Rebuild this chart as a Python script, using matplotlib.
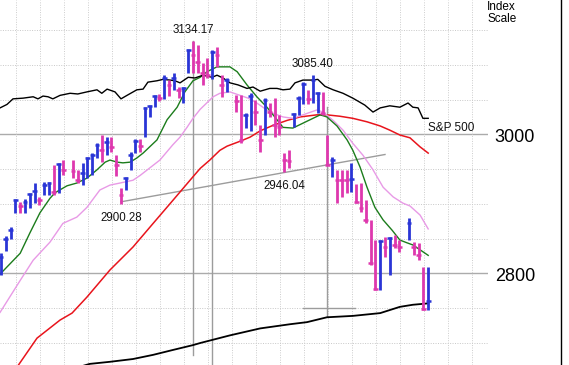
import numpy as np
import pandas as pd
import matplotlib
matplotlib.use("Agg")
import matplotlib.pyplot as plt
from matplotlib.lines import Line2D
from matplotlib.collections import LineCollection

plt.rcParams['font.family'] = ['Liberation Sans', 'DejaVu Sans']

# ---------------- data (Nasdaq Composite, daily, Jan 31 - Jun 4 2012) ----------------
start = "2012-01-31"
end = "2012-06-04"
holidays = ["2012-02-20", "2012-04-06", "2012-05-28"]

highs = [2829, 2854, 2867, 2907, 2903, 2907, 2916, 2930, 2910, 2931, 2931, 2956, 2959, 2963,
         2963, 2949, 2959, 2967, 2973, 2987, 2999, 2996, 2996, 2970,
         2923, 2939, 2975, 2993, 2993, 3039, 3042, 3056, 3058, 3085,
         3078, 3088, 3068, 3068, 3123, 3134.17, 3128, 3102, 3110, 3121,
         3125, 3085, 3081,
         3056, 3056, 3031, 3059, 3049, 3013, 3052, 3045, 3052, 3028,
         2973, 2977, 3031, 3055, 3075, 3064, 3085.40, 3061, 3061, 2999,
         2967, 2949, 2949, 2949, 2959, 2929, 2930, 2906, 2877, 2848,
         2848, 2852, 2852, 2855, 2848,
         2880, 2845, 2844, 2809, 2809]
lows = [2798, 2832, 2849, 2887, 2887, 2887, 2894, 2901, 2898, 2913, 2913, 2913, 2916, 2941,
        2937, 2930, 2927, 2937, 2941, 2966, 2960, 2970, 2975, 2940,
        2900.28, 2920, 2949, 2973, 2975, 2996, 3025, 3039, 3048, 3051,
        3055, 3064, 3052, 3045, 3088, 3088, 3088, 3071, 3081, 3079,
        3097, 3054, 3061,
        3032, 2987, 3009, 3005, 3013, 2975, 2999, 3025, 2996, 2999,
        2946.04, 2952, 3010, 3028, 3044, 3044, 3045, 3031, 3028, 2956,
        2939, 2901, 2910, 2916, 2917, 2901, 2888, 2872, 2812, 2776,
        2776, 2824, 2798, 2836, 2831,
        2848, 2826, 2819, 2748, 2748]
closes = [2824, 2849, 2862, 2905, 2897, 2903, 2914, 2918, 2905, 2927, 2930, 2917, 2958, 2949,
          2948, 2934, 2944, 2966, 2970, 2985, 2977, 2989, 2982, 2956,
          2913, 2937, 2970, 2990, 2983, 3038, 3041, 3055, 3052, 3081,
          3071, 3081, 3064, 3066, 3121, 3114, 3104, 3088, 3085, 3118,
          3114, 3071, 3078,
          3048, 2992, 3028, 3055, 3032, 2992, 3049, 3032, 3013, 3010,
          2963, 2962, 3029, 3052, 3072, 3051, 3078, 3059, 3031, 2956,
          2963, 2934, 2934, 2934, 2936, 2903, 2894, 2877, 2815, 2778,
          2846, 2838, 2851, 2841, 2838,
          2872, 2838, 2826, 2749, 2760]
# U = up day (blue), D = down day (magenta)
direction = ("UUUUDUUUDUUDUD"
             "DDUUUUDUDDDUUUDUUUDUDUDUUDDDDUDDU"
             "DDUUDDUDDDDDUUUDUUDDUDDDUDDDDDUDUDD"
             "UDDDU")

# moving averages / S&P 500 comparison line (x = weekday offset from start)
ma10_day = [-0.2, 4.0, 6.0, 8.1, 10.2, 11.25, 13.75, 15.8, 17.9, 20.0, 21.7, 22.7, 24.2, 25.4, 26.9,
            28.3, 29.6, 32.5, 34.6, 36.7, 38.3, 40.0, 41.5, 42.9, 45.0, 47.7, 49.2, 51.25, 53.3, 55.4,
            57.5, 58.75, 60.8, 62.9, 65.0, 66.5, 67.9, 70.0, 72.1, 73.3, 74.8, 76.25, 77.9, 79.6, 81.5,
            83.1, 84.6, 85.8, 87.3, 89.0]
ma10 = [2799, 2829, 2858, 2887, 2908, 2916, 2926, 2930, 2937, 2949, 2960, 2963, 2960, 2959, 2960,
        2966, 2973, 2992, 3021, 3039, 3061, 3077, 3082, 3090, 3097, 3097, 3090, 3071, 3054, 3039,
        3021, 3010, 3009, 3016, 3023, 3028, 3025, 3012, 2992, 2977, 2953, 2924, 2895, 2877, 2862,
        2848, 2844, 2841, 2834, 2826]

ma21_day = [-0.2, 4.0, 6.7, 10.2, 12.9, 15.8, 17.9, 20.6, 22.7, 24.8, 27.5, 29.0, 33.1, 35.8, 37.3,
            38.75, 40.0, 41.5, 44.2, 45.6, 47.7, 49.8, 51.5, 53.3, 56.0, 58.75, 60.8, 62.9, 65.8, 67.1,
            69.2, 71.25, 73.3, 75.4, 77.5, 79.6, 81.7, 83.75, 85.2, 87.3, 89.0]
ma21 = [2744, 2790, 2819, 2845, 2872, 2881, 2895, 2920, 2927, 2930, 2934, 2941, 2963, 2985, 2996,
        3010, 3023, 3036, 3054, 3059, 3061, 3056, 3052, 3045, 3032, 3025, 3023, 3028, 3035, 3032,
        3020, 3006, 2987, 2970, 2949, 2924, 2910, 2901, 2897, 2884, 2864]

ma50_day = [3.0, 7.5, 12.3, 14.8, 17.9, 22.7, 27.5, 31.7, 35.8, 40.0, 41.5, 43.5, 45.6, 47.1, 49.8,
            51.9, 54.0, 56.7, 59.6, 62.3, 65.8, 67.9, 70.6, 73.3, 76.25, 79.0, 81.0, 83.1, 85.2, 87.3,
            89.0]
ma50 = [2662, 2707, 2733, 2743, 2766, 2805, 2838, 2872, 2905, 2939, 2951, 2963, 2977, 2983, 2990,
        2996, 3005, 3013, 3020, 3025, 3028, 3028, 3026, 3023, 3018, 3012, 3006, 2999, 2995, 2982,
        2973]

ma200_day = [17.0, 18.5, 22.7, 27.5, 31.7, 35.8, 40.0, 41.5, 47.7, 54.0, 60.2, 63.75, 67.9, 73.3,
             79.0, 83.1, 85.8, 89.0]
ma200 = [2667, 2670, 2673, 2677, 2683, 2690, 2697, 2700, 2711, 2721, 2727, 2730, 2737, 2739,
         2743, 2752, 2755, 2757]

sp_day = [-0.2, 1.25, 2.5, 4.6, 6.7, 7.7, 8.75, 9.8, 10.8, 12.3, 14.4, 16.0, 17.9, 20.0, 21.0,
          22.1, 23.75, 25.0, 26.25, 28.3, 29.6, 30.6, 32.5, 33.75, 35.2, 36.25, 37.3, 39.0, 40.4, 42.1,
          44.0, 45.0, 46.25, 47.7, 49.4, 51.25, 52.5, 54.0, 56.0, 57.5, 58.75, 60.2, 61.25, 62.9, 64.8,
          66.0, 67.5, 69.2, 71.25, 73.3, 75.8, 77.5, 79.0, 81.0, 83.1, 84.8, 85.8, 86.9, 87.9, 89.0]
sp500 = [3038, 3043, 3051, 3052, 3054, 3051, 3055, 3054, 3051, 3056, 3059, 3058, 3061, 3064, 3059,
         3065, 3061, 3051, 3056, 3064, 3065, 3075, 3077, 3079, 3078, 3077, 3074, 3082, 3081, 3085,
         3082, 3085, 3081, 3074, 3071, 3066, 3068, 3062, 3066, 3066, 3064, 3065, 3074, 3078, 3078,
         3079, 3069, 3064, 3059, 3052, 3042, 3032, 3038, 3041, 3039, 3045, 3039, 3038, 3023, 3023]

# chartist's annotations
trend_day = [25, 80]
trend_val = [2903, 2971]
vmark_day = [40, 44, 68]
vmark_top = [3134, 3110, 3040]
vmark_bot = [2683, 2660, 2739]
hmark_day = [62.9, 73.75]
hmark_val = 2750
labels_above = ["2012-03-27", "2012-05-01"]
labels_below = ["2012-03-06", "2012-04-23"]

# ---------------- figure ----------------
dates = pd.bdate_range(start, end)
dates = dates[~dates.strftime("%Y-%m-%d").isin(holidays)]
x = np.busday_count(np.datetime64(start), dates.values.astype("datetime64[D]")).astype(float)
highs = np.array(highs, float)
lows = np.array(lows, float)
closes = np.array(closes, float)
assert len(x) == len(highs) == len(lows) == len(closes) == len(direction)

fig = plt.figure(figsize=(5.69, 3.65), dpi=100)
fig.patch.set_facecolor("white")
ax = fig.add_axes([0, 0, 488 / 569, 1])
ax.set_xlim(-1 / 4.8, 487 / 4.8)
ax.set_ylim(2668.4, 3193.1)
ax.axis("off")

# grid
for v in range(2700, 3200, 50):
    if v in (2800, 3000):
        ax.axhline(v, color="#ababab", lw=1.0, zorder=1)
    else:
        ax.axhline(v, color="#c8c8c8", lw=0.7, ls=(0, (1, 1.5)), zorder=1)
for g in np.arange(3.125, 100, 5):
    ax.axvline(g, color="#cccccc", lw=0.7, ls=(0, (1, 1.5)), zorder=1)

# annotation lines
gray = "#9c9c9c"
ax.plot(trend_day, trend_val, color=gray, lw=1.0, zorder=2)
for d, t, b in zip(vmark_day, vmark_top, vmark_bot):
    ax.plot([d, d], [b, t], color=gray, lw=1.0, zorder=2)
ax.plot(hmark_day, [hmark_val, hmark_val], color=gray, lw=1.0, zorder=2)

# moving averages and comparison line
ax.plot(ma200_day, ma200, color="black", lw=1.3, zorder=3)
ax.plot(ma50_day, ma50, color="#e8141c", lw=1.1, zorder=3)
ax.plot(ma21_day, ma21, color="#e89ae6", lw=1.0, zorder=3)
ax.plot(ma10_day, ma10, color="#1c7c1c", lw=1.0, zorder=3)
ax.plot(sp_day, sp500, color="black", lw=1.0, zorder=3)

# price bars
blue, magenta = "#2a35d6", "#de38ae"
cols = [blue if d == "U" else magenta for d in direction]
vsegs = [[(xi, lo), (xi, hi)] for xi, lo, hi in zip(x, lows, highs)]
tsegs = [[(xi - 0.5, c), (xi + 0.5, c)] for xi, c in zip(x, closes)]
ax.add_collection(LineCollection(vsegs, colors=cols, linewidths=2.0, zorder=4, capstyle="butt"))
ax.add_collection(LineCollection(tsegs, colors=cols, linewidths=1.8, zorder=4, capstyle="butt"))

# value labels
lbl_fs = 8.3
date_str = list(dates.strftime("%Y-%m-%d"))
for ds in labels_above:
    i = date_str.index(ds)
    ax.annotate(f"{highs[i]:.2f}", xy=(x[i], highs[i]), xytext=(0, 7.5),
                textcoords="offset pixels", ha="center", va="baseline",
                fontsize=lbl_fs, color="#111111", zorder=5)
for ds in labels_below:
    i = date_str.index(ds)
    ax.annotate(f"{lows[i]:.2f}", xy=(x[i], lows[i]), xytext=(0, -17),
                textcoords="offset pixels", ha="center", va="baseline",
                fontsize=lbl_fs, color="#111111", zorder=5)

ax.annotate("S&P 500", xy=(sp_day[-1], sp500[-1]), xytext=(0, -13),
            textcoords="offset pixels", ha="left", va="baseline",
            fontsize=8.5, color="#111111", zorder=5)

for v in (3000, 2800):
    ax.annotate(f"{v}", xy=(514 / 4.8, v), xytext=(0, -7.5), textcoords="offset pixels",
                ha="center", va="baseline", fontsize=13, color="black",
                annotation_clip=False)

fig.text(487 / 569, 1 - 9.5 / 365, "Index", fontsize=8.5, ha="left", va="baseline")
fig.text(487 / 569, 1 - 22.5 / 365, "Scale", fontsize=8.5, ha="left", va="baseline")

fig.add_artist(Line2D([560.5 / 569] * 2, [0, 1], color="black", lw=1.0,
                      transform=fig.transFigure))

fig.savefig("out.png", dpi=100)
